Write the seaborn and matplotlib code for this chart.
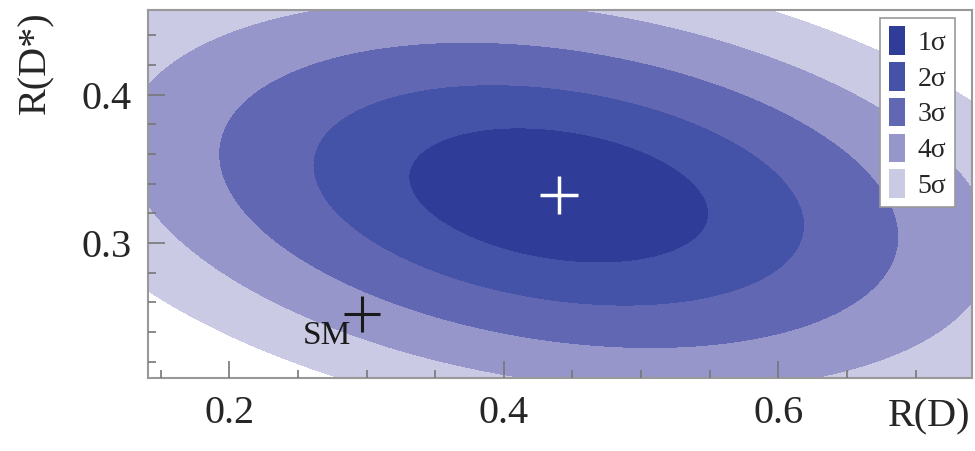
import numpy as np
import matplotlib
matplotlib.use('Agg')
import matplotlib.pyplot as plt
from matplotlib.patches import Patch
import seaborn as sns

centre = [0.440, 0.332]        # R(D), R(D*)
sigmas = [0.072, 0.030]
rho = -0.27
sm_point = [0.297, 0.252]

# 2D delta-chi2 for 1..5 sigma
sigma_labels = ['1σ', '2σ', '3σ', '4σ', '5σ']
dchi2 = [2.30, 6.18, 11.83, 19.33, 28.74]
colors = ['#2f3c98', '#4453a8', '#6167b2', '#9696cb', '#cacae5']

sns.set_style('ticks')
plt.rcParams['font.family'] = ['Liberation Serif', 'DejaVu Serif']

fig = plt.figure(figsize=(9.75, 4.51), dpi=100)
ax = fig.add_axes([0.152, 0.162, 0.845, 0.816])
ax.set_axisbelow(False)

# chi2 surface of the correlated gaussian
x = np.linspace(0.10, 0.80, 400)
y = np.linspace(0.18, 0.48, 400)
X, Y = np.meshgrid(x, y)
dx = (X - centre[0]) / sigmas[0]
dy = (Y - centre[1]) / sigmas[1]
chi2 = (dx**2 - 2 * rho * dx * dy + dy**2) / (1 - rho**2)

ax.contourf(X, Y, chi2, levels=[0] + dchi2, colors=colors, zorder=0)

ax.plot(centre[0], centre[1], marker='+', color='white', ms=28, mew=2.5)
ax.plot(sm_point[0], sm_point[1], marker='+', color='#1a1a1a', ms=26, mew=2.2)
ax.text(sm_point[0] - 0.008, sm_point[1] - 0.004, 'SM', ha='right', va='top',
        fontsize=24, color='#1a1a1a')

ax.set_xlim(0.141, 0.741)
ax.set_ylim(0.209, 0.457)
ax.set_xticks([0.2, 0.4, 0.6])
ax.set_yticks([0.3, 0.4])
ax.set_xticks(np.arange(0.15, 0.75, 0.05), minor=True)
ax.set_yticks(np.arange(0.22, 0.46, 0.02), minor=True)
ax.tick_params(which='both', direction='in', color='#777777', width=1.2,
               labelsize=29, pad=12)
ax.tick_params(which='major', length=12)
ax.tick_params(which='minor', length=6)
for s in ax.spines.values():
    s.set_color('#999999')
    s.set_linewidth(1.5)

fig.text(0.995, 0.035, 'R(D)', ha='right', va='bottom', fontsize=29)
fig.text(0.018, 0.975, 'R(D*)', ha='left', va='top', rotation=90, fontsize=29)

handles = [Patch(facecolor=c, edgecolor='none') for c in colors]
leg = ax.legend(handles, sigma_labels, loc='upper right', fontsize=20,
                handlelength=0.6, handleheight=1.2, handletextpad=0.45,
                labelspacing=0.22, borderpad=0.3, borderaxespad=0,
                fancybox=False, framealpha=1, edgecolor='#999999',
                bbox_to_anchor=(0.979, 0.978))
leg.get_frame().set_linewidth(1.2)

fig.savefig('out.png', dpi=100)
